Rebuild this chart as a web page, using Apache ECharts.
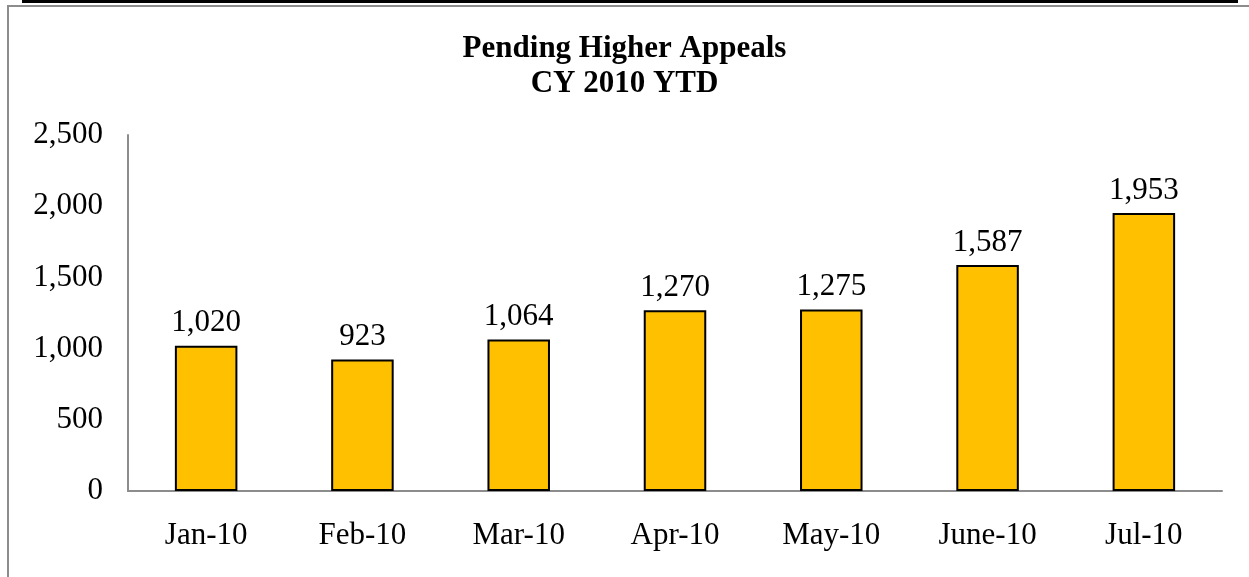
<!DOCTYPE html>
<html>
<head>
<meta charset="utf-8">
<script src="https://cdn.jsdelivr.net/npm/echarts@6/dist/echarts.min.js"></script>
<style>
  html, body { margin: 0; padding: 0; background: #fff; }
  #chart { width: 1249px; height: 577px; }
</style>
</head>
<body>
<div id="chart"></div>
<script>
// Pending higher appeals by month, CY 2010
var months = ['Jan-10', 'Feb-10', 'Mar-10', 'Apr-10', 'May-10', 'June-10', 'Jul-10'];
var pending = [1020, 923, 1064, 1270, 1275, 1587, 1953];
var titleLines = ['Pending Higher Appeals', 'CY 2010 YTD'];

var serif = '"Liberation Serif", "Times New Roman", serif';

var chart = echarts.init(document.getElementById('chart'));

chart.setOption({
    animation: false,
    backgroundColor: '#fff',
    title: {
        text: titleLines.join('\n'),
        left: 'center',
        top: 26,
        textStyle: {
            fontFamily: serif,
            fontWeight: 'bold',
            fontSize: 31,
            lineHeight: 35,
            color: '#000'
        }
    },
    grid: { left: 128, right: 27, top: 135, bottom: 86 },
    xAxis: {
        type: 'category',
        data: months,
        axisLine: { lineStyle: { color: '#8c8c8c', width: 2 } },
        axisTick: { show: false },
        axisLabel: {
            color: '#000',
            fontFamily: serif,
            fontSize: 31,
            margin: 29
        }
    },
    yAxis: {
        type: 'value',
        min: 0,
        max: 2500,
        interval: 500,
        axisLine: { show: true, lineStyle: { color: '#8c8c8c', width: 2 } },
        axisTick: { show: false },
        splitLine: { show: false },
        axisLabel: {
            color: '#000',
            fontFamily: serif,
            fontSize: 31,
            margin: 25,
            formatter: function (v) { return v.toLocaleString('en-US'); }
        }
    },
    series: [{
        type: 'bar',
        data: pending,
        barWidth: '40%',
        itemStyle: { color: '#FFC000', borderColor: '#000', borderWidth: 2 },
        label: {
            show: true,
            position: 'top',
            distance: 7,
            color: '#000',
            fontFamily: serif,
            fontSize: 31,
            formatter: function (p) { return p.value.toLocaleString('en-US'); }
        }
    }],
    graphic: [
        // outer frame pieces visible at the edges of the crop
        { type: 'rect', shape: { x: 8, y: 6, width: 1260, height: 600 },
          style: { fill: null, stroke: '#8c8c8c', lineWidth: 2 }, silent: true },
        { type: 'rect', shape: { x: 22, y: -4, width: 1216, height: 7 },
          style: { fill: '#000' }, silent: true }
    ]
});
</script>
</body>
</html>
